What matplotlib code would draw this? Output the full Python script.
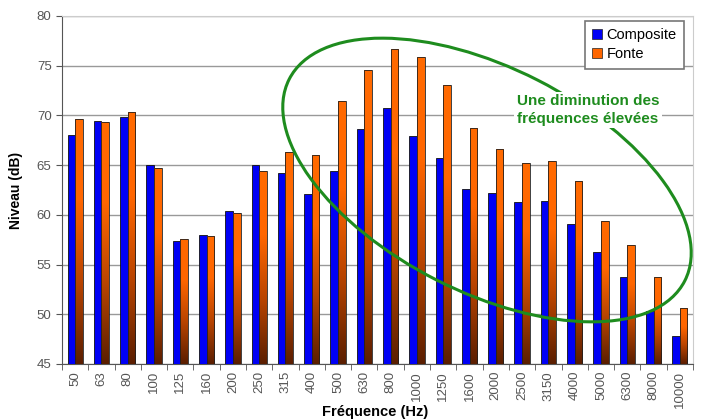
import numpy as np
import matplotlib
matplotlib.use("Agg")
import matplotlib.pyplot as plt
from matplotlib.patches import Ellipse, Patch
from matplotlib.colors import LinearSegmentedColormap
from matplotlib.transforms import IdentityTransform

plt.rcParams['font.family'] = ['Liberation Sans', 'DejaVu Sans']

frequences = ["50", "63", "80", "100", "125", "160", "200", "250", "315", "400",
              "500", "630", "800", "1000", "1250", "1600", "2000", "2500", "3150",
              "4000", "5000", "6300", "8000", "10000"]
composite = [68.0, 69.4, 69.8, 65.0, 57.4, 58.0, 60.4, 65.0, 64.2, 62.1,
             64.4, 68.6, 70.7, 67.9, 65.7, 62.6, 62.2, 61.3, 61.4,
             59.1, 56.3, 53.8, 50.3, 47.8]
fonte = [69.6, 69.3, 70.3, 64.7, 57.6, 57.9, 60.2, 64.4, 66.3, 66.0,
         71.5, 74.6, 76.7, 75.9, 73.1, 68.7, 66.6, 65.2, 65.4,
         63.4, 59.4, 57.0, 53.7, 50.6]

W, H = 702, 419
fig = plt.figure(figsize=(W / 100, H / 100), dpi=100)
ax = fig.add_axes([62 / W, (H - 364) / H, (693 - 62) / W, (364 - 16) / H])

x = np.arange(len(frequences))
bw = 0.29
ymin = 45

bleu = ax.bar(x - bw / 2, np.array(composite) - ymin, bw, bottom=ymin,
              color="#0000f5", edgecolor="#101010", linewidth=0.6, zorder=3)
orange = ax.bar(x + bw / 2, np.array(fonte) - ymin, bw, bottom=ymin,
                color="none", edgecolor="#202020", linewidth=0.6, zorder=4)

# degrade orange -> brun dans chaque barre
cmap = LinearSegmentedColormap.from_list("fonte", ["#5a1e00", "#b84400", "#ff6600", "#ff6a00"])
grad = np.linspace(0, 1, 256).reshape(-1, 1)
for rect in orange:
    x0, y0 = rect.get_x(), rect.get_y()
    im = ax.imshow(grad, cmap=cmap, aspect="auto", origin="lower",
                   extent=(x0, x0 + rect.get_width(), y0, y0 + rect.get_height()),
                   zorder=3)
    im.set_clip_path(rect)

ax.set_xlim(-0.5, len(frequences) - 0.5)
ax.set_ylim(45, 80)
ax.set_yticks(range(45, 81, 5))
ax.set_xticks(x)
ax.set_xticklabels(frequences, rotation=90)
ax.set_xticks(np.arange(-0.5, len(frequences), 1), minor=True)
ax.tick_params(axis="x", which="major", length=0, pad=5)
ax.tick_params(axis="x", which="minor", length=4, color="#555555")
ax.tick_params(axis="y", length=4, color="#555555")
ax.tick_params(labelsize=9.5, labelcolor="#555555")
ax.grid(axis="y", color="#999999", linewidth=1.0, zorder=0)
ax.set_axisbelow(True)
for s in ["top", "right"]:
    ax.spines[s].set_color("#cccccc")
for s in ["left", "bottom"]:
    ax.spines[s].set_color("#555555")

ax.set_ylabel("Niveau (dB)", fontsize=10, fontweight="bold", labelpad=10)
fig.text(375 / W, 1 - 412 / H, "Fréquence (Hz)", fontsize=10.5, fontweight="bold",
         ha="center", va="center")

leg = ax.legend([Patch(facecolor="#0000f5", edgecolor="#202020", linewidth=0.5),
                 Patch(facecolor="#ff6600", edgecolor="#202020", linewidth=0.5)],
                ["Composite", "Fonte"], loc="upper right",
                bbox_to_anchor=((684 - 62) / 631, (364 - 21) / 348), borderaxespad=0,
                fontsize=10.5, fancybox=False, framealpha=1, edgecolor="#777777",
                handlelength=0.7, handleheight=0.7, handletextpad=0.3,
                borderpad=0.5, labelspacing=0.35)
leg.get_frame().set_linewidth(1.2)
leg.set_zorder(10)

# ellipse verte (coordonnees pixel)
ell = Ellipse((487, H - 180), 2 * 222, 2 * 112, angle=-27,
              transform=IdentityTransform(), fill=False,
              edgecolor="#1e8c1e", linewidth=2.2, zorder=6, clip_on=False)
ax.add_artist(ell)

ax.text(588 / W, 1 - 110 / H, "Une diminution des\nfréquences élevées",
        transform=fig.transFigure, ha="center", va="center",
        fontsize=11, fontweight="bold", color="#1e8c1e", linespacing=1.3,
        bbox=dict(facecolor="white", edgecolor="none", pad=2), zorder=7)

fig.savefig("out.png", dpi=100)
